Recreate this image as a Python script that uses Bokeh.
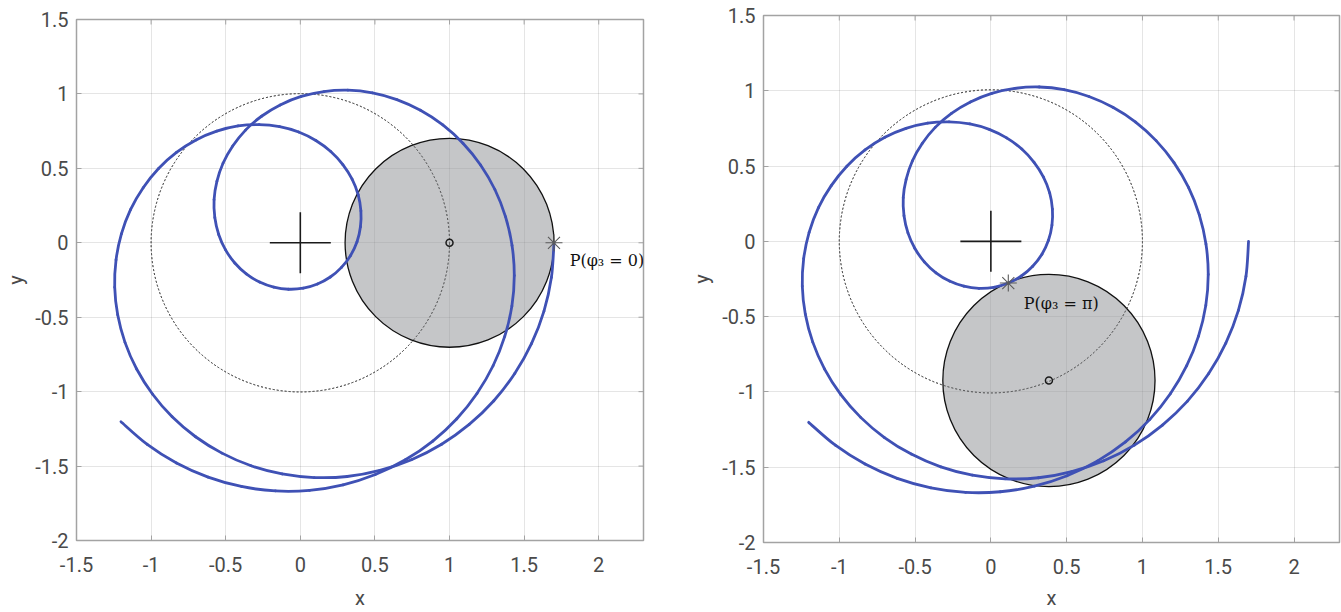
import math
from bokeh.plotting import figure
from bokeh.layouts import row, column
from bokeh.models import FixedTicker, Label, Range1d
from bokeh.embed import file_html
from bokeh.resources import INLINE

# ---------------- data ----------------
curve_x = [-1.202, -1.026, -0.830, -0.618, -0.395, -0.167, 0.062, 0.287, 0.503, 0.704,
           0.888, 1.049, 1.184, 1.292, 1.370, 1.418, 1.434, 1.419, 1.375, 1.304,
           1.208, 1.090, 0.955, 0.805, 0.647, 0.483, 0.319, 0.158, 0.006, -0.135,
           -0.260, -0.367, -0.453, -0.518, -0.559, -0.578, -0.573, -0.547, -0.502, -0.439,
           -0.362, -0.273, -0.178, -0.079, 0.020, 0.115, 0.201, 0.276, 0.337, 0.380,
           0.403, 0.406, 0.388, 0.347, 0.285, 0.204, 0.104, -0.011, -0.139, -0.276,
           -0.417, -0.560, -0.699, -0.830, -0.950, -1.053, -1.138, -1.199, -1.235, -1.244,
           -1.224, -1.175, -1.097, -0.991, -0.859, -0.702, -0.525, -0.330, -0.122, 0.094,
           0.314, 0.533, 0.745, 0.947, 1.132, 1.297, 1.437, 1.550, 1.633, 1.683, 1.700]
curve_y = [-1.202, -1.354, -1.479, -1.574, -1.637, -1.667, -1.663, -1.626, -1.557, -1.458,
           -1.332, -1.182, -1.012, -0.826, -0.629, -0.425, -0.220, -0.018, 0.176, 0.358,
           0.523, 0.669, 0.792, 0.890, 0.962, 1.007, 1.025, 1.016, 0.983, 0.926,
           0.850, 0.757, 0.650, 0.534, 0.412, 0.290, 0.170, 0.056, -0.046, -0.136,
           -0.209, -0.264, -0.298, -0.312, -0.305, -0.277, -0.230, -0.165, -0.085, 0.007,
           0.108, 0.214, 0.322, 0.427, 0.525, 0.613, 0.687, 0.744, 0.780, 0.794,
           0.785, 0.750, 0.691, 0.607, 0.499, 0.370, 0.223, 0.060, -0.115, -0.298,
           -0.484, -0.669, -0.848, -1.016, -1.169, -1.303, -1.413, -1.498, -1.553, -1.577,
           -1.570, -1.529, -1.457, -1.353, -1.220, -1.061, -0.878, -0.676, -0.459, -0.232, 0.000]

guide_circle_radius = 1.0
disc_radius = 0.7
disc_center_x = [1.0, 0.383]
disc_center_y = [0.0, -0.924]
p_point_x = [1.7, 0.115]
p_point_y = [0.0, -0.277]
p_labels = ["P(\u03c6\u2083 = 0)", "P(\u03c6\u2083 = \u03c0)"]

x_ticks = [-1.5, -1, -0.5, 0, 0.5, 1, 1.5, 2]
x_tick_labels = ["-1.5", "-1", "-0.5", "0", "0.5", "1", "1.5", "2"]
y_ticks = [-2, -1.5, -1, -0.5, 0, 0.5, 1, 1.5]
y_tick_labels = ["-2", "-1.5", "-1", "-0.5", "0", "0.5", "1", "1.5"]
x_limits = (-1.5, 2.3)
y_limits = (-2, 1.5)

# ---------------- styling ----------------
BLUE = "#3F51B5"
FRAME = "#a3a3a3"
TICKTXT = "#4a4a4a"

# smooth rendering of the traced curve (Catmull-Rom -> cubic Bezier pieces)
n = len(curve_x)


def _pt(i):
    i = min(max(i, 0), n - 1)
    return curve_x[i], curve_y[i]


bz = dict(x0=[], y0=[], x1=[], y1=[], cx0=[], cy0=[], cx1=[], cy1=[])
for i in range(n - 1):
    xa, ya = _pt(i - 1)
    xb, yb = _pt(i)
    xc, yc = _pt(i + 1)
    xd, yd = _pt(i + 2)
    bz["x0"].append(xb); bz["y0"].append(yb)
    bz["x1"].append(xc); bz["y1"].append(yc)
    bz["cx0"].append(xb + (xc - xa) / 6.0); bz["cy0"].append(yb + (yc - ya) / 6.0)
    bz["cx1"].append(xc - (xd - xb) / 6.0); bz["cy1"].append(yc - (yd - yb) / 6.0)


def make_panel(i, width, height, bl, br, bt, bb, x_lab_standoff, y_lab_standoff, lab):
    p = figure(width=width, height=height, output_backend="svg", toolbar_location=None,
               x_range=Range1d(*x_limits), y_range=Range1d(*y_limits),
               min_border_left=bl, min_border_right=br, min_border_top=bt, min_border_bottom=bb,
               background_fill_color="white", border_fill_color="white",
               outline_line_color=FRAME, outline_line_width=1.5)
    p.title = None
    for ax, ticks, labels in ((p.xaxis[0], x_ticks, x_tick_labels), (p.yaxis[0], y_ticks, y_tick_labels)):
        ax.ticker = FixedTicker(ticks=ticks, minor_ticks=[])
        ax.major_label_overrides = {t: s for t, s in zip(ticks, labels)}
        ax.axis_line_color = None
        ax.major_tick_in = 5
        ax.major_tick_out = 0
        ax.major_tick_line_color = FRAME
        ax.minor_tick_line_color = None
        ax.major_label_text_font = "Roboto"
        ax.major_label_text_font_size = "20px"
        ax.major_label_text_color = TICKTXT
        ax.axis_label_text_font = "Roboto"
        ax.axis_label_text_font_size = "20px"
        ax.axis_label_text_font_style = "normal"
        ax.axis_label_text_color = TICKTXT
    p.xaxis[0].axis_label = "x"
    p.yaxis[0].axis_label = "y"
    p.xaxis[0].major_label_standoff = 16
    p.yaxis[0].major_label_standoff = 8
    p.xaxis[0].axis_label_standoff = x_lab_standoff
    p.yaxis[0].axis_label_standoff = y_lab_standoff

    # grid
    p.xgrid.ticker = FixedTicker(ticks=x_ticks, minor_ticks=[])
    p.ygrid.ticker = FixedTicker(ticks=y_ticks, minor_ticks=[])
    for g in (p.xgrid[0], p.ygrid[0]):
        g.grid_line_color = "#262626"
        g.grid_line_alpha = 0.12
        g.grid_line_width = 1

    # inward ticks on the top and right sides of the box
    p.ray(x=x_ticks, y=[y_limits[1]] * len(x_ticks), length=5, length_units="screen",
          angle=-math.pi / 2, line_color=FRAME, line_width=1)
    p.ray(x=[x_limits[1]] * len(y_ticks), y=y_ticks, length=5, length_units="screen",
          angle=math.pi, line_color=FRAME, line_width=1)

    # dotted guide circle
    p.circle(x=[0], y=[0], radius=guide_circle_radius, fill_color=None,
             line_color="#4d4d4d", line_width=1, line_dash="2 2")
    # rolling disc
    p.circle(x=[disc_center_x[i]], y=[disc_center_y[i]], radius=disc_radius,
             fill_color="#8f9196", fill_alpha=0.52, line_color="#111111", line_width=1.3)
    p.circle(x=[0], y=[0], radius=guide_circle_radius, fill_color=None,
             line_color="#4d4d4d", line_width=1, line_alpha=0.6, line_dash="2 2")
    # trajectory
    p.bezier(x0=bz["x0"], y0=bz["y0"], x1=bz["x1"], y1=bz["y1"],
             cx0=bz["cx0"], cy0=bz["cy0"], cx1=bz["cx1"], cy1=bz["cy1"],
             line_color=BLUE, line_width=2.8, line_cap="round", line_join="round")
    # origin cross
    p.scatter(x=[0], y=[0], marker="cross", size=61, line_color="#1a1a1a", line_width=1.6)
    # disc centre
    p.scatter(x=[disc_center_x[i]], y=[disc_center_y[i]], marker="circle", size=7,
              fill_color=None, line_color="#1a1a1a", line_width=1.5)
    # point P
    p.scatter(x=[p_point_x[i]], y=[p_point_y[i]], marker="asterisk", size=17,
              line_color="#5a5a5a", line_width=1.1)
    p.add_layout(Label(x=lab["px"], y=lab["py"], text=p_labels[i], text_font="DejaVu Serif",
                       text_font_size="16px", text_color="#111111", text_baseline="alphabetic",
                       text_align="left"))
    return p


p1 = make_panel(0, 663, 612, 76, 20, 19, 71, 11, 4, dict(px=1.805, py=-0.116))
p2 = make_panel(1, 678, 612, 100, 2, 15, 67, 9, 5, dict(px=0.217, py=-0.415))

layout = row(column(p1), column(p2))
open("out.html", "w").write(file_html(layout, INLINE))
